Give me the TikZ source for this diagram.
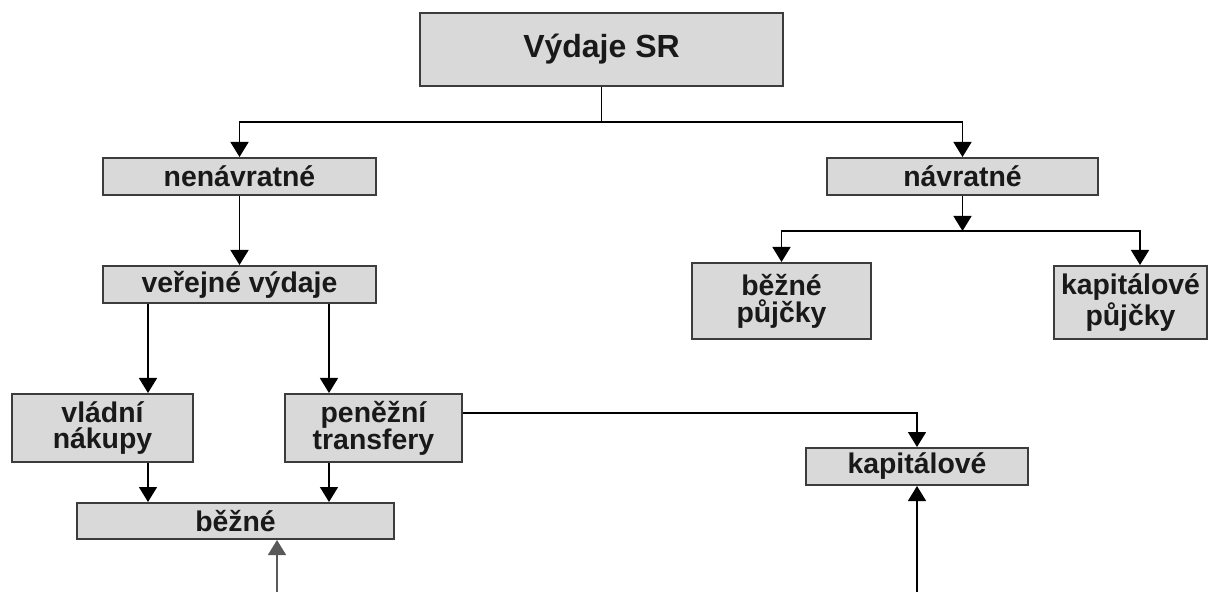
\documentclass[tikz,border=0pt]{standalone}
\usepackage{fontspec}
\setmainfont{Liberation Sans}
\usetikzlibrary{arrows.meta}
\definecolor{boxfill}{RGB}{217,217,217}
\definecolor{boxline}{RGB}{60,60,60}
\tikzset{
  box/.style={draw=boxline, line width=1pt, fill=boxfill, inner sep=0pt,
    align=center, text=black!90, font=\bfseries\fontsize{14.2}{13.4}\selectfont},
  arr/.style={-{Triangle[width=9pt,length=7.5pt]}, line width=0.75pt},
}
\begin{document}
\begin{tikzpicture}[x=0.5pt,y=-0.5pt]
      \useasboundingbox (0,0) rectangle (1208,592);
      \draw
        (601.5,49.5) node[box,minimum width=181.5pt,minimum height=36.5pt,
          font=\bfseries\fontsize{16}{18}\selectfont] (vydaje){Výdaje SR}
        (239.5,176.5) node[box,minimum width=136.5pt,minimum height=18.5pt] (nenavr){nenávratné}
        (962.5,176.5) node[box,minimum width=135.5pt,minimum height=18.5pt] (navr){návratné}
        (239.5,284.5) node[box,minimum width=136.5pt,minimum height=18.5pt] (verejne){veřejné výdaje}
        (781.5,301) node[box,minimum width=89.5pt,minimum height=38pt] (bpujcky){běžné\\půjčky}
        (1130.5,302.5) node[box,minimum width=76.5pt,minimum height=36.5pt] (kpujcky){kapitálové\\půjčky}
        (102.5,428) node[box,minimum width=90.5pt,minimum height=34pt] (vladni){vládní\\nákupy}
        (373.5,428) node[box,minimum width=88.5pt,minimum height=34pt] (penezni){peněžní\\transfery}
        (917,466.5) node[box,minimum width=111pt,minimum height=18.5pt] (kapital){kapitálové}
        (235.5,521) node[box,minimum width=158.5pt,minimum height=18pt] (bezne){běžné};
      \coordinate (split) at (601.5,122);
      \coordinate (split2) at (962.5,231);
      \coordinate (lx) at (148,0);
      \coordinate (rx) at (329,0);
      \coordinate (kx) at (1140,0);
      \coordinate (foot1) at (277,592);
      \coordinate (foot2) at (917,592);
      \begin{scope}[arr]
        \draw[-] (vydaje.south) -- (split);
        \draw (split) -| (nenavr.north);
        \draw (split) -| (navr.north);
        \draw (nenavr) -- (verejne);
        \draw (navr) -- (split2);
        \draw (split2) -| (bpujcky.north);
        \draw (split2) -| (kpujcky.north -| kx);
        \draw (verejne.south -| lx) -- (vladni.north -| lx);
        \draw (verejne.south -| rx) -- (penezni.north -| rx);
        \draw (vladni.south -| lx) -- (bezne.north -| lx);
        \draw (penezni.south -| rx) -- (bezne.north -| rx);
        \draw ([yshift=7.5pt]penezni.east) -| (kapital.north);
        \draw[black!65] (foot1) -- (bezne.south -| foot1);
        \draw (foot2) -- (kapital.south);
      \end{scope}
    \end{tikzpicture}
\end{document}
